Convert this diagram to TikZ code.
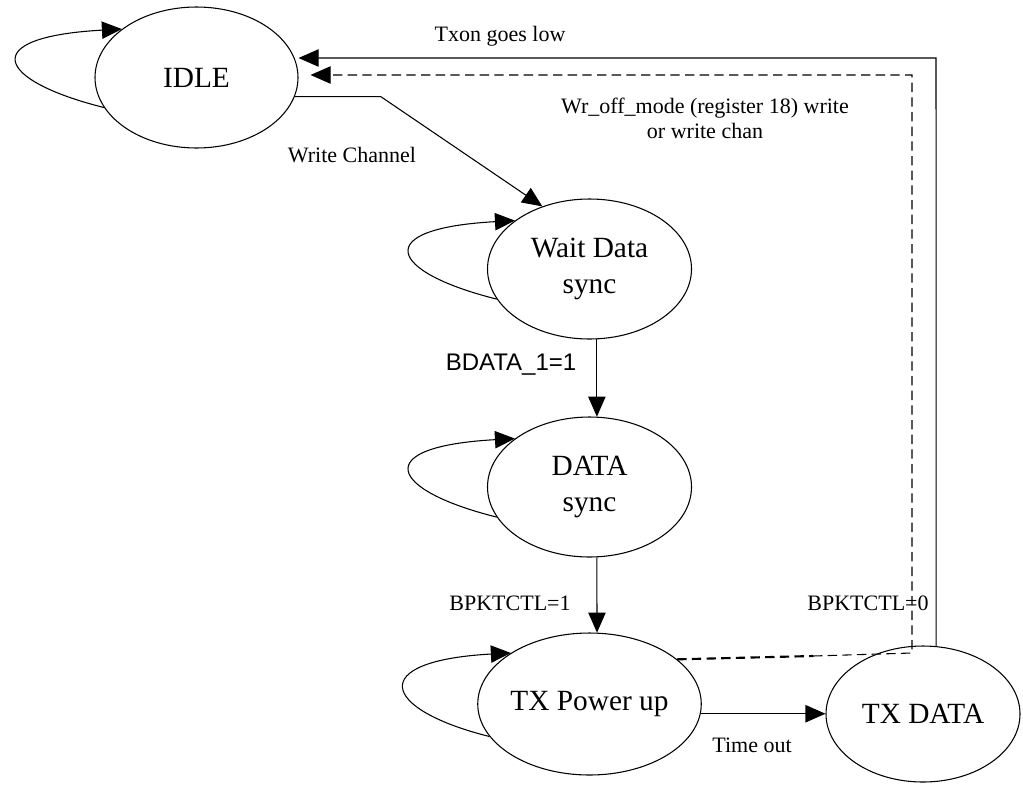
\documentclass[tikz,border=0pt]{standalone}
\usepackage{fontspec}
\setmainfont{Liberation Serif}
\newfontfamily\arialfont{Liberation Sans}
\usetikzlibrary{shapes.geometric,arrows.meta,calc}
\begin{document}
\begin{tikzpicture}[x=0.75pt,y=-0.75pt,line width=0.8pt,
  state/.style={draw, ellipse, inner sep=0pt, align=center,
                font=\fontsize{22}{27}\selectfont},
  lbl/.style={inner sep=0pt, font=\fontsize{16.5}{18.75}\selectfont},
  tip/.style={-{Triangle[length=15pt,width=13pt]}},
  retdash/.style={dash pattern=on 7pt off 4pt}]
\useasboundingbox (0,0) rectangle (1023,786);

% states
\node[state, minimum width=152.25pt, minimum height=105.75pt] (idle) at (196.5,77.5) {IDLE};
\node[state, minimum width=153pt, minimum height=105pt] (wait) at (589.5,269) {Wait Data\\sync};
\node[state, minimum width=153pt, minimum height=105pt] (data) at (589.5,487) {DATA\\sync};
\node[state, minimum width=153.75pt, minimum height=106.5pt] (txpower) at (589.5,704) {TX Power up};
\node[state, minimum width=145.5pt, minimum height=102pt] (txdata) at (923,714) {TX DATA};

% self loops
\draw[tip] (idle.198) .. controls +(-108,-27) and +(-146,8) .. (idle.147);
\draw[tip] (wait.198) .. controls +(-108,-27) and +(-146,8) .. (wait.147);
\draw[tip] (data.198) .. controls +(-108,-27) and +(-146,8) .. (data.147);
\draw[tip] (txpower.198) .. controls +(-108,-27) and +(-146,8) .. (txpower.147);

% forward transitions
\draw[tip] (idle.-11) -- ++(86,0) -- (wait.127);
\draw[tip] (wait.-84) -- (data.84);
\draw[tip] (data.-84) -- (txpower.84);
\draw[tip] (txpower.-5) -- (txpower.-5 -| txdata.west);

% return to IDLE (solid)
\coordinate (rs) at (936,58);
\draw[tip] (txdata.79) -- (rs) -- (rs -| idle.east);

% return to IDLE (dashed)
\coordinate (rk) at (813,656);
\coordinate (rc) at (912,653);
\coordinate (rd) at (912,75);
\draw[retdash, line width=1.6pt] (txpower.27) -- (rk);
\draw[retdash, tip] (rk) -- (rc) -- (rd) -- ([xshift=9pt]rd -| idle.east);

% labels
\node[lbl] (lwc) at (352,155) {Write Channel};
\node[lbl] (ltx) at (500,36) {Txon goes low};
\node[lbl, align=center] (lwr) at (705,118) {Wr\_off\_mode (register 18) write\\or write chan};
\node[inner sep=0pt, font=\arialfont\fontsize{18}{20}\selectfont] (lbd) at (511,365) {BDATA\_1=1};
\node[lbl] (lb1) at (510,603) {BPKTCTL=1};
\node[lbl] (lb0) at (868,603) {BPKTCTL=0};
\node[lbl] (lto) at (752,745) {Time out};
\end{tikzpicture}
\end{document}
